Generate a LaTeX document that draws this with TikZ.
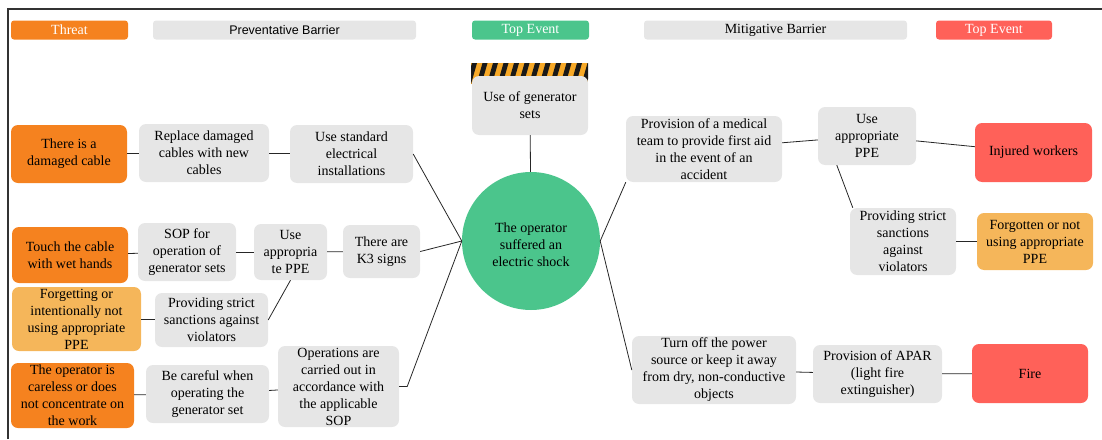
\documentclass[tikz,border=0pt]{standalone}
\usepackage{fontspec}
\setmainfont{Liberation Serif}
\setsansfont{Liberation Sans}
\usetikzlibrary{calc}
\definecolor{threatorange}{HTML}{F5821F}
\definecolor{threatlight}{HTML}{F5B65A}
\definecolor{barriergray}{HTML}{E6E6E6}
\definecolor{topgreen}{HTML}{4BC58C}
\definecolor{consred}{HTML}{FF6159}
\definecolor{hazardamber}{HTML}{F7A928}
\begin{document}
\begin{tikzpicture}[x=1pt,y=-1pt,
        box/.style={rectangle,rounded corners=7pt,inner sep=0pt,align=center,
            font=\fontsize{14}{17}\selectfont},
        head/.style={rectangle,rounded corners=3pt,inner sep=0pt,minimum height=19pt,
            font=\fontsize{14}{16}\selectfont}]
        \useasboundingbox (0,0) rectangle (1102,439);
        % frame
        \draw[line width=1.6pt,black!80] (8,439) -- (8,9) -- (1102,9);
        % header row
        \begin{scope}[every node/.style={head}]
            \node (hthreat) [fill=threatorange,text=white,minimum width=117pt] at (69.5,30) {Threat};
            \node (hprev) [fill=barriergray,minimum width=263pt,font=\sffamily\fontsize{12.5}{15}\selectfont] at (284.5,30) {Preventative Barrier};
            \node (htop) [fill=topgreen,text=white,minimum width=117pt] at (530.5,30) {Top Event};
            \node (hmit) [fill=barriergray,minimum width=263pt] at (775.5,30) {Mitigative Barrier};
            \node (hcons) [fill=consred,text=white,minimum width=116pt] at (994,30) {Top Event};
        \end{scope}
        % hazard sign
        \begin{scope}
            \clip (471,63) rectangle (588,84);
            \fill[hazardamber] (471,63) rectangle (588,84);
            \foreach \i in {0,...,12}
                \fill[black!90] ({466+10.5*\i},84) -- ({471+10.5*\i},84) -- ({477+10.5*\i},63) -- ({472+10.5*\i},63) -- cycle;
        \end{scope}
        \node (hazard) [box,fill=barriergray,minimum width=116pt,minimum height=59pt] at (530,105.5) {Use of generator\\sets};
        % top event
        \node (circ) [circle,fill=topgreen,inner sep=0pt,minimum size=138pt,
            label={[align=center,yshift=-3.5pt,font=\fontsize{14}{17}\selectfont]center:The operator\\suffered an\\electric shock}] at (531,241) {};
        % threats
        \begin{scope}[every node/.style={box,fill=threatorange}]
            \node (t1) [minimum width=116pt,minimum height=58pt] at (69,154) {There is a\\damaged cable};
            \node (t2) [minimum width=116pt,minimum height=56pt] at (70,255) {Touch the cable\\with wet hands};
            \node (t3) [fill=threatlight,minimum width=129pt,minimum height=64pt] at (76.5,319) {Forgetting or\\intentionally not\\using appropriate\\PPE};
            \node (t4) [minimum width=123pt,minimum height=65pt] at (72.5,395.5) {The operator is\\careless or does\\not concentrate on\\the work};
        \end{scope}
        % preventative barriers
        \begin{scope}[every node/.style={box,fill=barriergray}]
            \node (p1a) [minimum width=130pt,minimum height=58pt] at (204,153) {Replace damaged\\cables with new\\cables};
            \node (p1b) [minimum width=123pt,minimum height=58pt] at (351.5,154) {Use standard\\electrical\\installations};
            \node (p2a) [minimum width=98pt,minimum height=58pt] at (187,252) {SOP for\\operation of\\generator sets};
            \node (p2b) [minimum width=73pt,minimum height=56pt] at (290.5,252) {Use\\appropria\\te PPE};
            \node (p2c) [minimum width=77pt,minimum height=53pt] at (381.5,251.5) {There are\\K3 signs};
            \node (p3) [minimum width=113pt,minimum height=54pt] at (211.5,320) {Providing strict\\sanctions against\\violators};
            \node (p4a) [minimum width=123pt,minimum height=58pt] at (207.5,394) {Be careful when\\operating the\\generator set};
            \node (p4b) [minimum width=121pt,minimum height=81pt] at (338.5,386.5) {Operations are\\carried out in\\accordance with\\the applicable\\SOP};
        \end{scope}
        % mitigative barriers
        \begin{scope}[every node/.style={box,fill=barriergray}]
            \node (m1a) [minimum width=156pt,minimum height=66pt] at (704,149) {Provision of a medical\\team to provide first aid\\in the event of an\\accident};
            \node (m1b) [minimum width=98pt,minimum height=58pt] at (867,136) {Use\\appropriate\\PPE};
            \node (m1c) [minimum width=106pt,minimum height=67pt] at (903,241.5) {Providing strict\\sanctions\\against\\violators};
            \node (m2a) [minimum width=164pt,minimum height=68pt] at (714,370) {Turn off the power\\source or keep it away\\from dry, non-conductive\\objects};
            \node (m2b) [minimum width=129pt,minimum height=58pt] at (877.5,374) {Provision of APAR\\(light fire\\extinguisher)};
        \end{scope}
        % consequences
        \begin{scope}[every node/.style={box,fill=consred}]
            \node (c1) [minimum width=117pt,minimum height=59pt] at (1033.5,152.5) {Injured workers};
            \node (c2) [fill=threatlight,minimum width=116pt,minimum height=57pt] at (1035,241.5) {Forgotten or not\\using appropriate\\PPE};
            \node (c3) [minimum width=116pt,minimum height=59pt] at (1030,373.5) {Fire};
        \end{scope}
        % connectors
        \begin{scope}[every edge/.style={draw,line width=0.8pt,black!85}]
            \path
                (t1) edge (p1a)
                (p1a) edge (p1b)
                (p1b.east) edge (circ.west)
                (t2) edge (p2a)
                (p2a) edge (p2b)
                (p2b) edge (p2c)
                (p2c.east) edge (circ.west)
                (t3) edge (p3)
                (p3.east) edge (p2b.south)
                (t4) edge (p4a)
                (p4a) edge (p4b)
                (hazard) edge (circ)
                (circ.east) edge (m1a.south west)
                (m1a) edge (m1b)
                (m1b) edge (c1)
                ($(m1b.south west)+(19,0)$) edge ($(m1c.north west)+(3,0)$)
                (m1c) edge (c2)
                (circ.east) edge (m2a.west)
                (m2a) edge (m2b)
                (m2b) edge (c3);
        \end{scope}
        \draw[line width=0.8pt,black!85] (p4b.east) -- ++(8,0) -- (circ.west);
    \end{tikzpicture}
\end{document}
